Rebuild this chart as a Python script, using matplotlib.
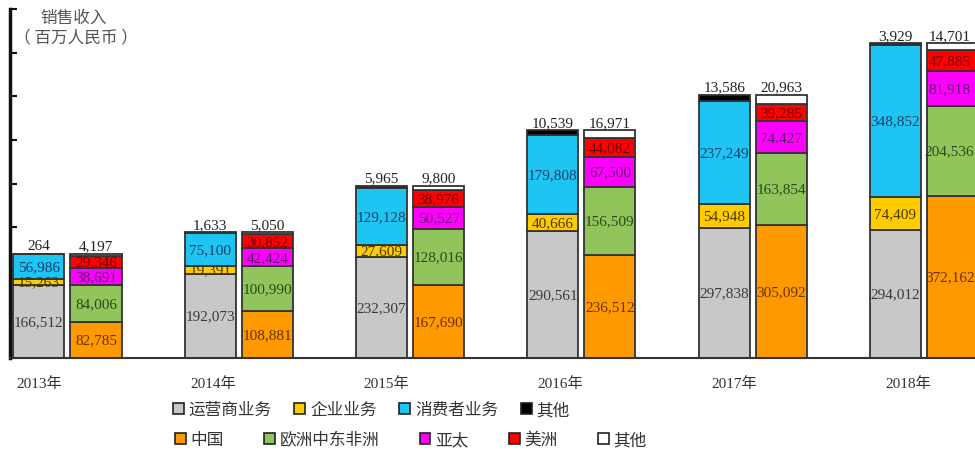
import matplotlib
matplotlib.use("Agg")
import matplotlib.pyplot as plt
import numpy as np
from matplotlib.patches import Patch

years = ["2013年", "2014年", "2015年", "2016年", "2017年", "2018年"]

# business segments (millions RMB)
carrier = [166512, 192073, 232307, 290561, 297838, 294012]
enterprise = [15263, 19391, 27609, 40666, 54948, 74409]
consumer = [56986, 75100, 129128, 179808, 237249, 348852]
biz_other = [264, 1633, 5965, 10539, 13586, 3929]

# regions (millions RMB)
china = [82785, 108881, 167690, 236512, 305092, 372162]
emea = [84006, 100990, 128016, 156509, 163854, 204536]
apac = [38691, 42424, 50527, 67500, 74427, 81918]
americas = [29346, 30852, 38976, 44082, 39285, 47885]
region_other = [4197, 5050, 9800, 16971, 20963, 14701]

biz_labels = ["运营商业务", "企业业务", "消费者业务", "其他"]
region_labels = ["中国", "欧洲中东非洲", "亚太", "美洲", "其他"]

biz_colors = ["#c8c8c8", "#ffcc00", "#1ec4f2", "#000000"]
biz_text = ["#3a3a3a", "#4a3800", "#1a3f6b", None]
region_colors = ["#ff9900", "#92c45c", "#ff00ff", "#ff0000", "#ffffff"]
region_text = ["#6b3000", "#2a4a1a", "#5a1a6a", "#6e0000", None]

SERIF = ["Liberation Serif", "Noto Sans CJK SC"]
CJK = ["Noto Sans CJK SC", "DejaVu Sans"]

fig = plt.figure(figsize=(9.75, 4.56), dpi=100)
ax = fig.add_axes([10 / 975, 1 - 359 / 456, 1 - 10 / 975, (359 - 10) / 456])

x = np.arange(len(years))
width = 0.298
offset = 0.333
x_right = (975 - 39) / 171.3
half_label = 0.148  # keep labels of the last bar inside the figure


def stack(xpos, series, colors, tcolors):
    bottom = np.zeros(len(xpos))
    for vals, col, tc in zip(series, colors, tcolors):
        vals = np.asarray(vals, dtype=float)
        ax.bar(xpos, vals, width, bottom=bottom, color=col,
               edgecolor="#333333", linewidth=1.3, zorder=2)
        for xi, b, v in zip(xpos, bottom, vals):
            xt = min(xi, x_right - half_label)
            if tc is None:
                ax.annotate(f"{int(v):,}", (xt, b + v), xytext=(0, 1),
                            textcoords="offset points", ha="center", va="bottom",
                            fontsize=11, family=SERIF, color="#222222")
            else:
                ax.text(xt, b + v / 2, f"{int(v):,}", ha="center", va="center",
                        fontsize=11, family=SERIF, color=tc, zorder=3)
        bottom = bottom + vals


stack(x, [carrier, enterprise, consumer, biz_other], biz_colors, biz_text)
stack(x + offset, [china, emea, apac, americas, region_other], region_colors, region_text)

ax.set_ylim(0, 800000)
ax.set_xlim(-0.169, x_right)
ax.set_yticks(np.arange(0, 800001, 100000))
ax.set_yticklabels([])
ax.tick_params(axis="y", direction="in", length=5, width=1.5, color="#111111")
ax.set_xticks(x * 1.015)
ax.set_xticklabels(years, family=SERIF, fontsize=11, color="#333333")
ax.tick_params(axis="x", length=0, pad=13)

for s in ["top", "right"]:
    ax.spines[s].set_visible(False)
ax.spines["left"].set_linewidth(2.5)
ax.spines["left"].set_color("#111111")
ax.spines["bottom"].set_linewidth(1.5)
ax.spines["bottom"].set_color("#333333")

fig.text(74 / 975, 1 - 18 / 456, "销售收入", ha="center", va="center",
         family=CJK, fontsize=12, color="#555555")
fig.text(76 / 975, 1 - 38 / 456, "（ 百万人民币 ）", ha="center", va="center",
         family=CJK, fontsize=12, color="#555555")

h1 = [Patch(facecolor=c, edgecolor="#222222", linewidth=1.2) for c in biz_colors]
h2 = [Patch(facecolor=c, edgecolor="#222222", linewidth=1.2) for c in region_colors]
leg_kw = dict(loc="upper left", frameon=False, borderpad=0, borderaxespad=0,
              handlelength=0.65, handleheight=0.65, handletextpad=0.3,
              prop={"family": CJK, "size": 12}, labelcolor="#333333")
fig.legend(h1, biz_labels, bbox_to_anchor=(173 / 975, 1 - 402 / 456), ncol=4,
           columnspacing=1.35, **leg_kw)
fig.legend(h2, region_labels, bbox_to_anchor=(175 / 975, 1 - 432 / 456), ncol=5,
           columnspacing=2.4, **leg_kw)

fig.savefig("out.png", dpi=100)
